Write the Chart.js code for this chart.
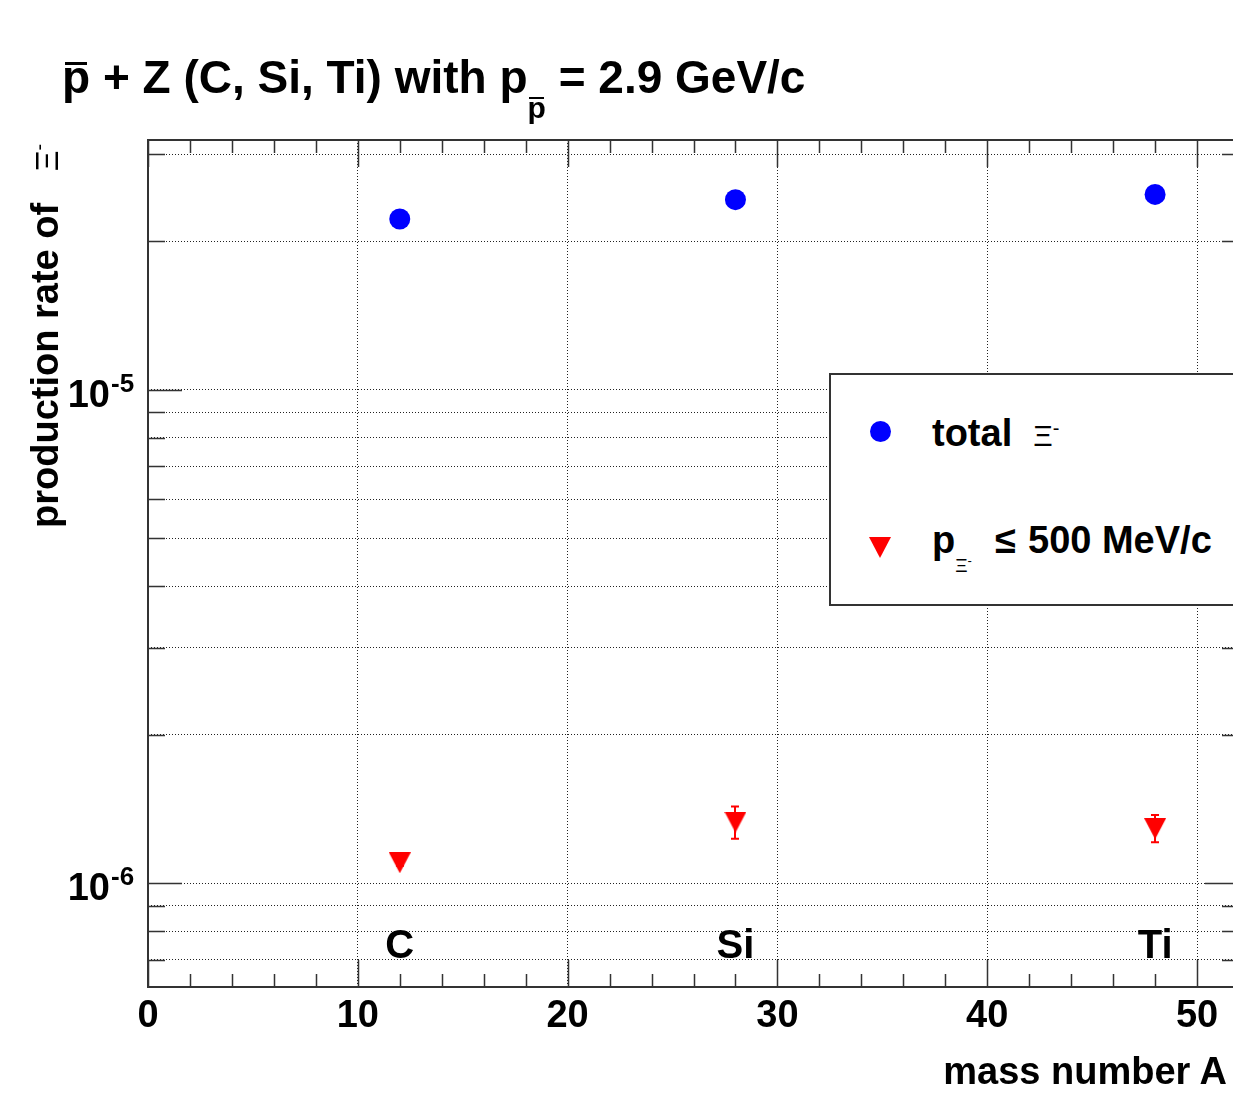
<!DOCTYPE html>
<html>
<head>
<meta charset="utf-8">
<script src="https://cdn.jsdelivr.net/npm/chart.js@4.4.0/dist/chart.umd.min.js"></script>
<style>
    html, body { margin: 0; padding: 0; background: #fff; overflow: hidden; }
    #quadro {
        position: relative; width: 1233px; height: 1097px; overflow: hidden;
        font-family: "Liberation Sans", Arial, Helvetica, sans-serif; font-weight: bold; color: #000;
    }
    #grafico { position: absolute; left: 0; top: 0; }
    .txt { position: absolute; white-space: nowrap; line-height: 1; }
    .barra { position: relative; }
    .barra::after {
        content: ''; position: absolute; left: 0.06em; right: 0.06em; top: 0.23em; height: 3px; background: #000;
    }
    .barra2::after { top: 0.2em; height: 2px; }
    #legenda {
        position: absolute; left: 829px; top: 373px; width: 440px; height: 233px;
        box-sizing: border-box; border: 2px solid #333; background: #fff;
    }
    .xi { font-weight: normal; }
    sup, sub { line-height: 0; }
</style>
</head>
<body>
<div id="quadro">
    <canvas id="grafico" width="1250" height="1097"></canvas>

    <div class="txt" id="titulo" style="left:62px; top:54px; font-size:46px;">
        <span class="barra">p</span> + Z (C, Si, Ti) with p<span style="font-size:30px; vertical-align:-25px;"><span class="barra barra2">p</span></span> = 2.9 GeV/c
    </div>

    <div class="txt" id="tituloY" style="left:26px; top:528px; font-size:38px; transform-origin:0 0; transform:rotate(-90deg);">
        production rate of&nbsp;&nbsp;&nbsp;<span class="xi" style="font-size:32px;">Ξ<sup style="font-size:20px;">-</sup></span>
    </div>

    <div class="txt" id="tituloX" style="right:6px; top:1052px; font-size:38px;">mass number A</div>

    <div id="legenda"></div>
    <div style="position:absolute; left:870px; top:421px; width:21px; height:21px; border-radius:50%; background:#0000ff;"></div>
    <div style="position:absolute; left:869px; top:537px; width:0; height:0; border-left:11px solid transparent; border-right:11px solid transparent; border-top:21px solid #ff0000;"></div>
    <div class="txt" style="left:932px; top:414px; font-size:38px;">total&nbsp;&nbsp;<span class="xi" style="font-size:30px;">Ξ<sup style="font-size:20px;">-</sup></span></div>
    <div class="txt" style="left:932px; top:521px; font-size:38px;">p<sub class="xi" style="font-size:19px; vertical-align:-19px;">Ξ<sup style="font-size:13px;">-</sup></sub></div>
    <div class="txt" style="left:995px; top:521px; font-size:38px;">≤</div>
    <div class="txt" style="left:1028px; top:521px; font-size:38px;">500 MeV/c</div>
</div>

<script>
// dados
const massaA          = [12, 28, 48];
const elementos       = ['C', 'Si', 'Ti'];
const taxaTotal       = [2.22e-5, 2.43e-5, 2.49e-5];
const taxaBaixoMom    = [1.10e-6, 1.33e-6, 1.29e-6];
const erroBaixoMin    = [1.085e-6, 1.23e-6, 1.21e-6];
const erroBaixoMax    = [1.12e-6, 1.43e-6, 1.375e-6];

// eixos
const xMin = 0, xMax = 52;
const yMin = 6.16e-7, yMax = 3.21e-5;
const xRotulos  = [0, 10, 20, 30, 40, 50];
const yDecadas  = [-6, -5];

const fonte = '"Liberation Sans", Arial, Helvetica, sans-serif';

// marcador triangulo para baixo (estilo ROOT)
const triangulo = document.createElement('canvas');
triangulo.width = 22;
triangulo.height = 21;
(function () {
    const c = triangulo.getContext('2d');
    c.fillStyle = '#ff0000';
    c.beginPath();
    c.moveTo(0, 0);
    c.lineTo(22, 0);
    c.lineTo(11, 21);
    c.closePath();
    c.fill();
})();

// linhas de grade: todos os valores 1..9 de cada decada dentro da faixa
const gradeY = [];
for (let d = -7; d <= -5; d++) {
    for (let m = 1; m <= 9; m++) {
        const v = m * Math.pow(10, d);
        if (v > yMin && v < yMax) gradeY.push(v);
    }
}
const gradeX = xRotulos.filter(v => v > xMin);

function texto(ctx, txt, x, y, tamanho, alinhar) {
    ctx.save();
    ctx.font = `bold ${tamanho}px ${fonte}`;
    ctx.fillStyle = '#000';
    ctx.textAlign = alinhar;
    ctx.textBaseline = 'alphabetic';
    ctx.fillText(txt, x, y);
    ctx.restore();
}

const eixosRoot = {
    id: 'eixosRoot',
    beforeDatasetsDraw(chart) {
        // barras de erro da serie vermelha
        const ctx = chart.ctx;
        const sx = chart.scales.x, sy = chart.scales.y;
        ctx.save();
        ctx.strokeStyle = '#ff0000';
        ctx.lineWidth = 2;
        massaA.forEach((a, i) => {
            const px = Math.round(sx.getPixelForValue(a));
            const y1 = sy.getPixelForValue(erroBaixoMax[i]);
            const y2 = sy.getPixelForValue(erroBaixoMin[i]);
            ctx.beginPath();
            ctx.moveTo(px, y1); ctx.lineTo(px, y2);
            ctx.moveTo(px - 4, y1); ctx.lineTo(px + 4, y1);
            ctx.moveTo(px - 4, y2); ctx.lineTo(px + 4, y2);
            ctx.stroke();
        });
        ctx.restore();
    },
    afterDraw(chart) {
        const ctx = chart.ctx;
        const area = chart.chartArea;
        const sx = chart.scales.x, sy = chart.scales.y;

        ctx.save();
        ctx.strokeStyle = '#333';
        ctx.lineWidth = 2;
        ctx.strokeRect(area.left, area.top, area.right - area.left, area.bottom - area.top);

        // marcas do eixo x (baixo e cima)
        ctx.beginPath();
        for (let v = xMin; v <= xMax; v += 2) {
            const px = Math.round(sx.getPixelForValue(v)) + 0.5;
            const len = v % 10 === 0 ? 27 : 13;
            ctx.moveTo(px, area.bottom); ctx.lineTo(px, area.bottom - len);
            ctx.moveTo(px, area.top); ctx.lineTo(px, area.top + len);
        }
        // marcas do eixo y (esquerda e direita)
        gradeY.forEach(v => {
            const py = Math.round(sy.getPixelForValue(v)) + 0.5;
            const len = Math.abs(Math.log10(v) - Math.round(Math.log10(v))) < 1e-9 ? 34 : 17;
            ctx.moveTo(area.left, py); ctx.lineTo(area.left + len, py);
            ctx.moveTo(area.right, py); ctx.lineTo(area.right - len, py);
        });
        ctx.lineWidth = 1.5;
        ctx.stroke();
        ctx.restore();

        // rotulos do eixo x
        xRotulos.forEach(v => {
            texto(ctx, String(v), sx.getPixelForValue(v), area.bottom + 40, 38, 'center');
        });

        // rotulos do eixo y: 10^d
        yDecadas.forEach(d => {
            const py = sy.getPixelForValue(Math.pow(10, d));
            texto(ctx, '10', 110, py + 17, 38, 'right');
            texto(ctx, String(d), 111, py + 2, 26, 'left');
        });

        // nomes dos alvos
        massaA.forEach((a, i) => {
            texto(ctx, elementos[i], sx.getPixelForValue(a), area.bottom - 29, 40, 'center');
        });
    }
};

new Chart(document.getElementById('grafico'), {
    type: 'scatter',
    data: {
        datasets: [
            {
                label: 'total',
                data: massaA.map((a, i) => ({ x: a, y: taxaTotal[i] })),
                pointStyle: 'circle',
                pointRadius: 10.5,
                backgroundColor: '#0000ff',
                borderWidth: 0
            },
            {
                label: 'p <= 500 MeV/c',
                data: massaA.map((a, i) => ({ x: a, y: taxaBaixoMom[i] })),
                pointStyle: triangulo,
                pointRadius: 11,
                backgroundColor: '#ff0000',
                borderWidth: 0
            }
        ]
    },
    options: {
        responsive: false,
        animation: false,
        events: [],
        layout: { padding: { left: 148, top: 140, right: 11, bottom: 110 } },
        plugins: { legend: { display: false }, tooltip: { enabled: false } },
        scales: {
            x: {
                type: 'linear', min: xMin, max: xMax,
                afterFit: s => { s.height = 0; },
                afterBuildTicks: s => { s.ticks = gradeX.map(v => ({ value: v })); },
                ticks: { display: false },
                grid: { color: '#222', lineWidth: 1, drawTicks: false },
                border: { display: false, dash: [1, 2] }
            },
            y: {
                type: 'logarithmic', min: yMin, max: yMax,
                afterFit: s => { s.width = 0; },
                afterBuildTicks: s => { s.ticks = gradeY.map(v => ({ value: v })); },
                ticks: { display: false },
                grid: { color: '#222', lineWidth: 1, drawTicks: false },
                border: { display: false, dash: [1, 2] }
            }
        }
    },
    plugins: [eixosRoot]
});
</script>
</body>
</html>
